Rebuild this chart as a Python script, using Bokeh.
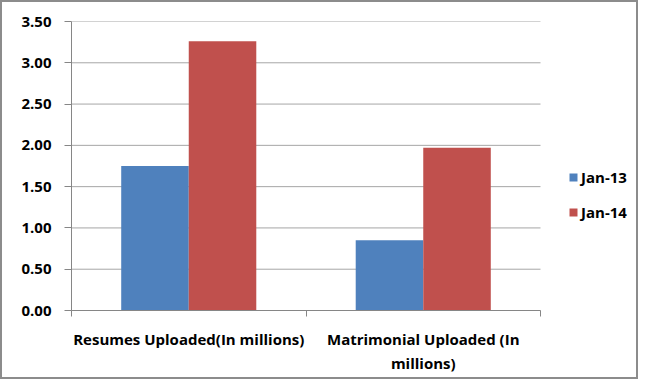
import numpy as np
from bokeh.plotting import figure
from bokeh.models import (ColumnDataSource, Range1d, FixedTicker, NumeralTickFormatter,
                          Legend, LegendItem)
from bokeh.embed import file_html
from bokeh.resources import INLINE

categories = ["Resumes Uploaded(In millions)", "Matrimonial Uploaded (In millions)"]
category_labels = ["Resumes Uploaded(In millions)", "Matrimonial Uploaded (In\nmillions)"]
series = ["Jan-13", "Jan-14"]
jan13 = [1.75, 0.85]
jan14 = [3.26, 1.97]
y_ticks = [0.0, 0.5, 1.0, 1.5, 2.0, 2.5, 3.0, 3.5]
colors = ["#4F81BD", "#C0504D"]

FONT = "Open Sans"
FSIZE = "15px"
BAR_W = 0.288
W, H = 638, 379
LEFT, TOP, BOTTOM = 69, 19, 71
PLOT_W = 469           # width of the bar area in px
FRAME_W = W - LEFT     # frame extends to the right edge (room for legend)

n = len(categories)
centers = np.arange(n) + 0.5
src = ColumnDataSource(dict(
    x13=centers - BAR_W / 2,
    x14=centers + BAR_W / 2,
    jan13=jan13,
    jan14=jan14,
))
grid_src = ColumnDataSource(dict(y=y_ticks, x0=[0] * len(y_ticks), x1=[n] * len(y_ticks)))

p = figure(width=W, height=H, output_backend="svg", toolbar_location=None,
           x_range=Range1d(0, n * FRAME_W / PLOT_W), y_range=Range1d(y_ticks[0], y_ticks[-1]),
           min_border_left=LEFT, min_border_right=0, min_border_top=TOP,
           min_border_bottom=BOTTOM)
p.styles = {"border": "2px solid #8c8c8c"}
p.outline_line_color = None
p.background_fill_color = "white"
p.border_fill_color = "white"
p.xgrid.grid_line_color = None
p.ygrid.grid_line_color = None

# horizontal gridlines limited to the bar area
p.segment(x0="x0", x1="x1", y0="y", y1="y", source=grid_src,
          line_color="#a6a6a6", line_width=1)

r13 = p.vbar(x="x13", top="jan13", width=BAR_W, bottom=0, source=src,
             fill_color=colors[0], line_color=None)
r14 = p.vbar(x="x14", top="jan14", width=BAR_W, bottom=0, source=src,
             fill_color=colors[1], line_color=None)

# y axis
p.yaxis.ticker = FixedTicker(ticks=y_ticks)
p.yaxis.formatter = NumeralTickFormatter(format="0.00")
p.yaxis.axis_line_color = "#868686"
p.yaxis.major_tick_line_color = "#868686"
p.yaxis.major_tick_out = 7
p.yaxis.major_tick_in = 0
p.yaxis.minor_tick_line_color = None
p.yaxis.major_label_standoff = 13
p.yaxis.major_label_text_font = FONT
p.yaxis.major_label_text_font_style = "bold"
p.yaxis.major_label_text_font_size = FSIZE
p.yaxis.major_label_text_color = "black"

# x axis
p.xaxis.bounds = (0, n)
p.xaxis.ticker = FixedTicker(ticks=list(centers), minor_ticks=list(np.arange(n + 1)))
p.xaxis.major_label_overrides = {float(c): lab for c, lab in zip(centers, category_labels)}
p.xaxis.axis_line_color = "#868686"
p.xaxis.major_tick_line_color = None
p.xaxis.major_tick_out = 0
p.xaxis.major_tick_in = 0
p.xaxis.minor_tick_line_color = "#868686"
p.xaxis.minor_tick_out = 6
p.xaxis.minor_tick_in = 0
p.xaxis.major_label_standoff = 12
p.xaxis.major_label_text_font = FONT
p.xaxis.major_label_text_font_style = "bold"
p.xaxis.major_label_text_font_size = FSIZE
p.xaxis.major_label_text_color = "black"

legend = Legend(items=[LegendItem(label=series[0], renderers=[r13]),
                       LegendItem(label=series[1], renderers=[r14])],
                location=(497, 88), orientation="vertical",
                glyph_width=10, glyph_height=10, label_height=18,
                label_standoff=3, spacing=15, padding=0, margin=0,
                border_line_color=None, background_fill_color=None,
                label_text_font=FONT, label_text_font_style="bold",
                label_text_font_size=FSIZE, label_text_color="black")
p.add_layout(legend, "center")

open("out.html", "w").write(file_html(p, INLINE))
